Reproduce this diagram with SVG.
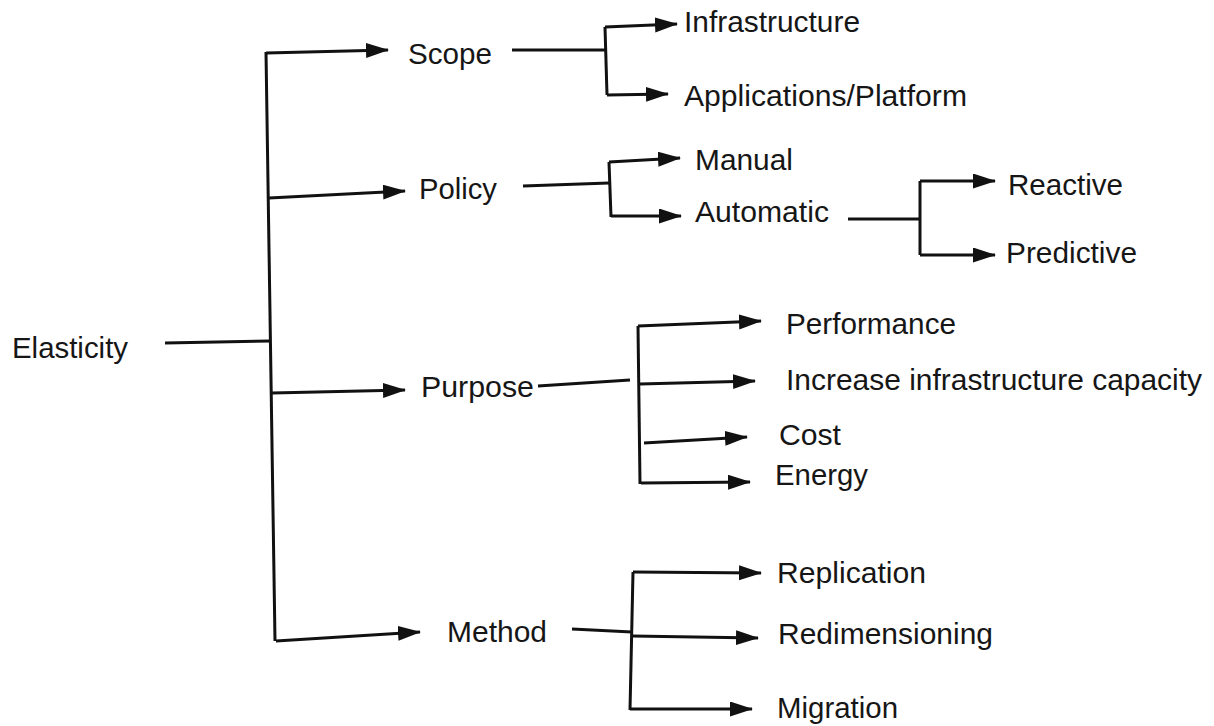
<svg xmlns="http://www.w3.org/2000/svg" width="1214" height="726" viewBox="0 0 1214 726">
  <style>
    .lbl { font-family: "Liberation Sans", Arial, sans-serif; font-size: 30px; fill: #161616; }
    .wire { fill: none; stroke: #111; stroke-width: 3; stroke-linejoin: miter; }
    .arr { fill: none; stroke: #111; stroke-width: 3; marker-end: url(#head); }
  </style>
  <defs>
    <marker id="head" markerUnits="userSpaceOnUse" markerWidth="24" markerHeight="16" refX="22" refY="7.5" orient="auto">
      <path d="M0,0 L23,7.5 L0,15 Z" fill="#111"/>
    </marker>
  </defs>
  <rect width="1214" height="726" fill="#fff"/>

  <!-- connectors -->
  <g id="connectors">
    <!-- root trunk -->
    <path class="wire" d="M165,343 L270,341"/>
    <path class="wire" d="M266,52 L275,641"/>
    <path class="arr" d="M266,53 L388,50"/>
    <path class="arr" d="M269,198 L405,191"/>
    <path class="arr" d="M272,393 L405,390"/>
    <path class="arr" d="M276,641 L420,632"/>

    <!-- Scope -->
    <path class="wire" d="M512,50 L606,50"/>
    <path class="wire" d="M605,27 L607,95"/>
    <path class="arr" d="M605,27 L677,24"/>
    <path class="arr" d="M607,95 L668,94"/>

    <!-- Policy -->
    <path class="wire" d="M523,186 L609,183"/>
    <path class="wire" d="M609,162 L611,217"/>
    <path class="arr" d="M609,162 L680,158"/>
    <path class="arr" d="M611,216 L681,216"/>

    <!-- Automatic -->
    <path class="wire" d="M848,219 L921,219"/>
    <path class="wire" d="M920,181 L920,255"/>
    <path class="arr" d="M920,181 L995,181"/>
    <path class="arr" d="M920,255 L995,255"/>

    <!-- Purpose -->
    <path class="wire" d="M538,386 L630,380"/>
    <path class="wire" d="M638,326 L640,484"/>
    <path class="arr" d="M638,326 L761,321"/>
    <path class="arr" d="M640,384 L755,381"/>
    <path class="arr" d="M644,443 L747,437"/>
    <path class="arr" d="M641,483 L750,482"/>

    <!-- Method -->
    <path class="wire" d="M572,629 L632,632"/>
    <path class="wire" d="M633,572 L630,710"/>
    <path class="arr" d="M633,572 L761,573"/>
    <path class="arr" d="M632,636 L758,638"/>
    <path class="arr" d="M630,709 L752,709"/>
  </g>

  <g id="elasticity"><text class="lbl" x="12" y="358" textLength="116" lengthAdjust="spacingAndGlyphs">Elasticity</text></g>

  <g id="scope"><text class="lbl" x="408" y="64" textLength="84" lengthAdjust="spacingAndGlyphs">Scope</text></g>
  <g id="infrastructure"><text class="lbl" x="684" y="32" textLength="176" lengthAdjust="spacingAndGlyphs">Infrastructure</text></g>
  <g id="applications"><text class="lbl" x="684" y="106" textLength="283" lengthAdjust="spacingAndGlyphs">Applications/Platform</text></g>

  <g id="policy"><text class="lbl" x="419" y="199" textLength="78" lengthAdjust="spacingAndGlyphs">Policy</text></g>
  <g id="manual"><text class="lbl" x="695" y="170" textLength="98" lengthAdjust="spacingAndGlyphs">Manual</text></g>
  <g id="automatic"><text class="lbl" x="695" y="222" textLength="134" lengthAdjust="spacingAndGlyphs">Automatic</text></g>
  <g id="reactive"><text class="lbl" x="1008" y="195" textLength="115" lengthAdjust="spacingAndGlyphs">Reactive</text></g>
  <g id="predictive"><text class="lbl" x="1006" y="263" textLength="131" lengthAdjust="spacingAndGlyphs">Predictive</text></g>

  <g id="purpose"><text class="lbl" x="421" y="397" textLength="113" lengthAdjust="spacingAndGlyphs">Purpose</text></g>
  <g id="performance"><text class="lbl" x="786" y="334" textLength="170" lengthAdjust="spacingAndGlyphs">Performance</text></g>
  <g id="capacity"><text class="lbl" x="786" y="390" textLength="416" lengthAdjust="spacingAndGlyphs">Increase infrastructure capacity</text></g>
  <g id="cost"><text class="lbl" x="779" y="445" textLength="62" lengthAdjust="spacingAndGlyphs">Cost</text></g>
  <g id="energy"><text class="lbl" x="775" y="485" textLength="93" lengthAdjust="spacingAndGlyphs">Energy</text></g>

  <g id="method"><text class="lbl" x="447" y="642" textLength="100" lengthAdjust="spacingAndGlyphs">Method</text></g>
  <g id="replication"><text class="lbl" x="777" y="583" textLength="149" lengthAdjust="spacingAndGlyphs">Replication</text></g>
  <g id="redimensioning"><text class="lbl" x="778" y="644" textLength="215" lengthAdjust="spacingAndGlyphs">Redimensioning</text></g>
  <g id="migration"><text class="lbl" x="777" y="718" textLength="121" lengthAdjust="spacingAndGlyphs">Migration</text></g>
</svg>
